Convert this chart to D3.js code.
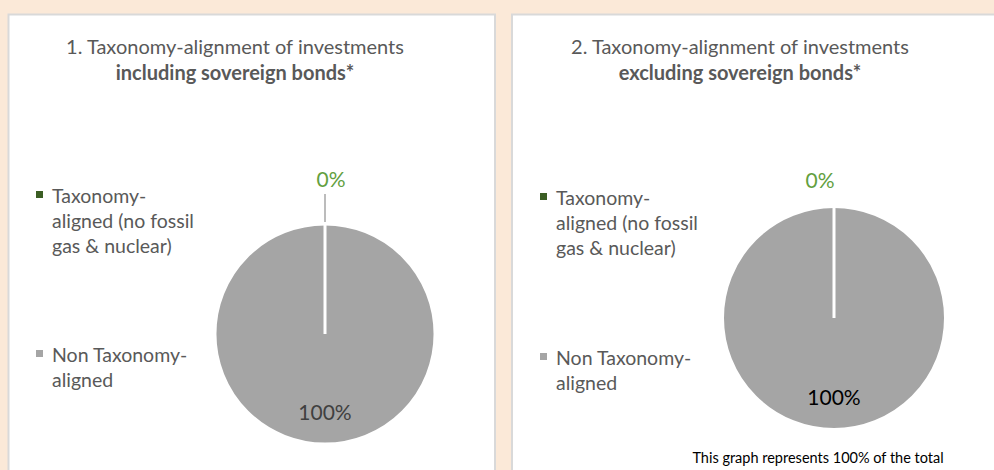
<!DOCTYPE html>
<html>
<head>
<meta charset="utf-8">
<script src="https://cdn.jsdelivr.net/npm/d3@7"></script>
<style>
  body { margin: 0; background: #FBE9D8; }
  svg { display: block; }
</style>
</head>
<body>
<svg id="chart" width="994" height="470"></svg>
<script>
// Categories and values for the two taxonomy-alignment pies
const categories = ["Taxonomy-aligned (no fossil gas & nuclear)", "Non Taxonomy-aligned"];
const includingSovereignBonds = [0, 100];
const excludingSovereignBonds = [0, 100];
const titleLines1 = ["1. Taxonomy-alignment of investments", "including sovereign bonds*"];
const titleLines2 = ["2. Taxonomy-alignment of investments", "excluding sovereign bonds*"];
const footnoteText = "This graph represents 100% of the total";

const sliceColors = ["#3B5E24", "#A5A5A5"];
const FONT = "Lato, 'Open Sans', sans-serif";
const LEGEND_SIZE = 19.5;

const svg = d3.select("#chart");
svg.append("rect").attr("width", 994).attr("height", 470).attr("fill", "#FBE9D8");

// layout for each chart panel
const panels = [
  { values: includingSovereignBonds, title: titleLines1, frame: [8.5, 14.5, 486.5, 480],
    titleX: 235, cx: 325, cy: 334, r: 110, legendX: 36, legendY: [191, 350],
    zeroDx: 6, zeroR: 151, leader: true, bigColor: "#404040", footnote: false },
  { values: excludingSovereignBonds, title: titleLines2, frame: [512, 14.5, 500, 480],
    titleX: 740, cx: 834, cy: 318, r: 111.5, legendX: 540, legendY: [193, 353],
    zeroDx: -14, zeroR: 134, leader: false, bigColor: "#000000", footnote: true }
];

const pie = d3.pie().sort(null).value(d => d);

// wrap a label into lines no wider than maxW, breaking at spaces and after hyphens
function wrapLines(text, maxW, size) {
  const tokens = [];
  text.replace(/[^\s-]+-?/g, (m, off) => {
    tokens.push({ word: m, sep: m.endsWith("-") ? "" : (text[off + m.length] === " " ? " " : "") });
    return m;
  });
  const meas = svg.append("text").attr("font-family", FONT).attr("font-size", size).attr("visibility", "hidden");
  const lines = [];
  let cur = "";
  tokens.forEach(tk => {
    const cand = cur + tk.word;
    meas.text(cand);
    if (cur && meas.node().getComputedTextLength() > maxW) {
      lines.push(cur.trim());
      cur = tk.word + tk.sep;
    } else {
      cur = cand + tk.sep;
    }
  });
  if (cur.trim()) lines.push(cur.trim());
  meas.remove();
  return lines;
}

panels.forEach(p => {
  const g = svg.append("g");
  const [fx, fy, fw, fh] = p.frame;
  g.append("rect").attr("x", fx).attr("y", fy).attr("width", fw).attr("height", fh)
    .attr("fill", "#FFFFFF").attr("stroke", "#D9D9D9").attr("stroke-width", 2);

  // title
  const t = g.append("text").attr("text-anchor", "middle").attr("font-family", FONT)
    .attr("font-size", 20).attr("fill", "#595959");
  t.append("tspan").attr("x", p.titleX).attr("y", 54).text(p.title[0]);
  t.append("tspan").attr("x", p.titleX).attr("y", 80).attr("font-weight", "bold").text(p.title[1]);

  // legend
  categories.forEach((c, i) => {
    const ly = p.legendY[i];
    g.append("rect").attr("x", p.legendX).attr("y", ly).attr("width", 7).attr("height", 7)
      .attr("fill", sliceColors[i]);
    const lines = wrapLines(c, 152, LEGEND_SIZE);
    const lt = g.append("text").attr("font-family", FONT).attr("font-size", LEGEND_SIZE).attr("fill", "#595959");
    lines.forEach((ln, k) => {
      lt.append("tspan").attr("x", p.legendX + 16).attr("y", ly + 12 + k * 25).text(ln);
    });
  });

  // pie slices
  const arcs = pie(p.values);
  const arc = d3.arc().innerRadius(0).outerRadius(p.r);
  const pg = g.append("g").attr("transform", `translate(${p.cx},${p.cy})`);
  const ordered = arcs.slice().sort((a, b) => (b.endAngle - b.startAngle) - (a.endAngle - a.startAngle));
  pg.selectAll("path").data(ordered).join("path")
    .attr("d", arc)
    .attr("fill", d => sliceColors[d.index])
    .attr("stroke", "#FFFFFF")
    .attr("stroke-width", 3)
    .attr("stroke-linejoin", "miter");

  // data labels
  arcs.forEach(d => {
    const mid = (d.startAngle + d.endAngle) / 2;
    const pct = d.value + "%";
    if (d.value === 0) {
      if (p.leader) {
        pg.append("line")
          .attr("x1", Math.sin(mid) * (p.r + 2)).attr("y1", -Math.cos(mid) * (p.r + 2))
          .attr("x2", Math.sin(mid) * (p.r + 30)).attr("y2", -Math.cos(mid) * (p.r + 30))
          .attr("stroke", "#A6A6A6").attr("stroke-width", 1.5);
      }
      pg.append("text").attr("text-anchor", "middle").attr("font-family", FONT)
        .attr("font-size", 21).attr("fill", "#63A03F")
        .attr("x", Math.sin(mid) * p.zeroR + p.zeroDx).attr("y", -Math.cos(mid) * p.zeroR + 4)
        .text(pct);
    } else {
      const lr = p.r * 0.78;
      pg.append("text").attr("text-anchor", "middle").attr("font-family", FONT)
        .attr("font-size", 21).attr("fill", p.bigColor)
        .attr("x", Math.sin(mid) * lr).attr("y", -Math.cos(mid) * lr)
        .text(pct);
    }
  });

  if (p.footnote) {
    g.append("text").attr("text-anchor", "middle").attr("font-family", FONT)
      .attr("font-size", 14.5).attr("fill", "#000000")
      .attr("x", 818).attr("y", 463).text(footnoteText);
  }
});
</script>
</body>
</html>
